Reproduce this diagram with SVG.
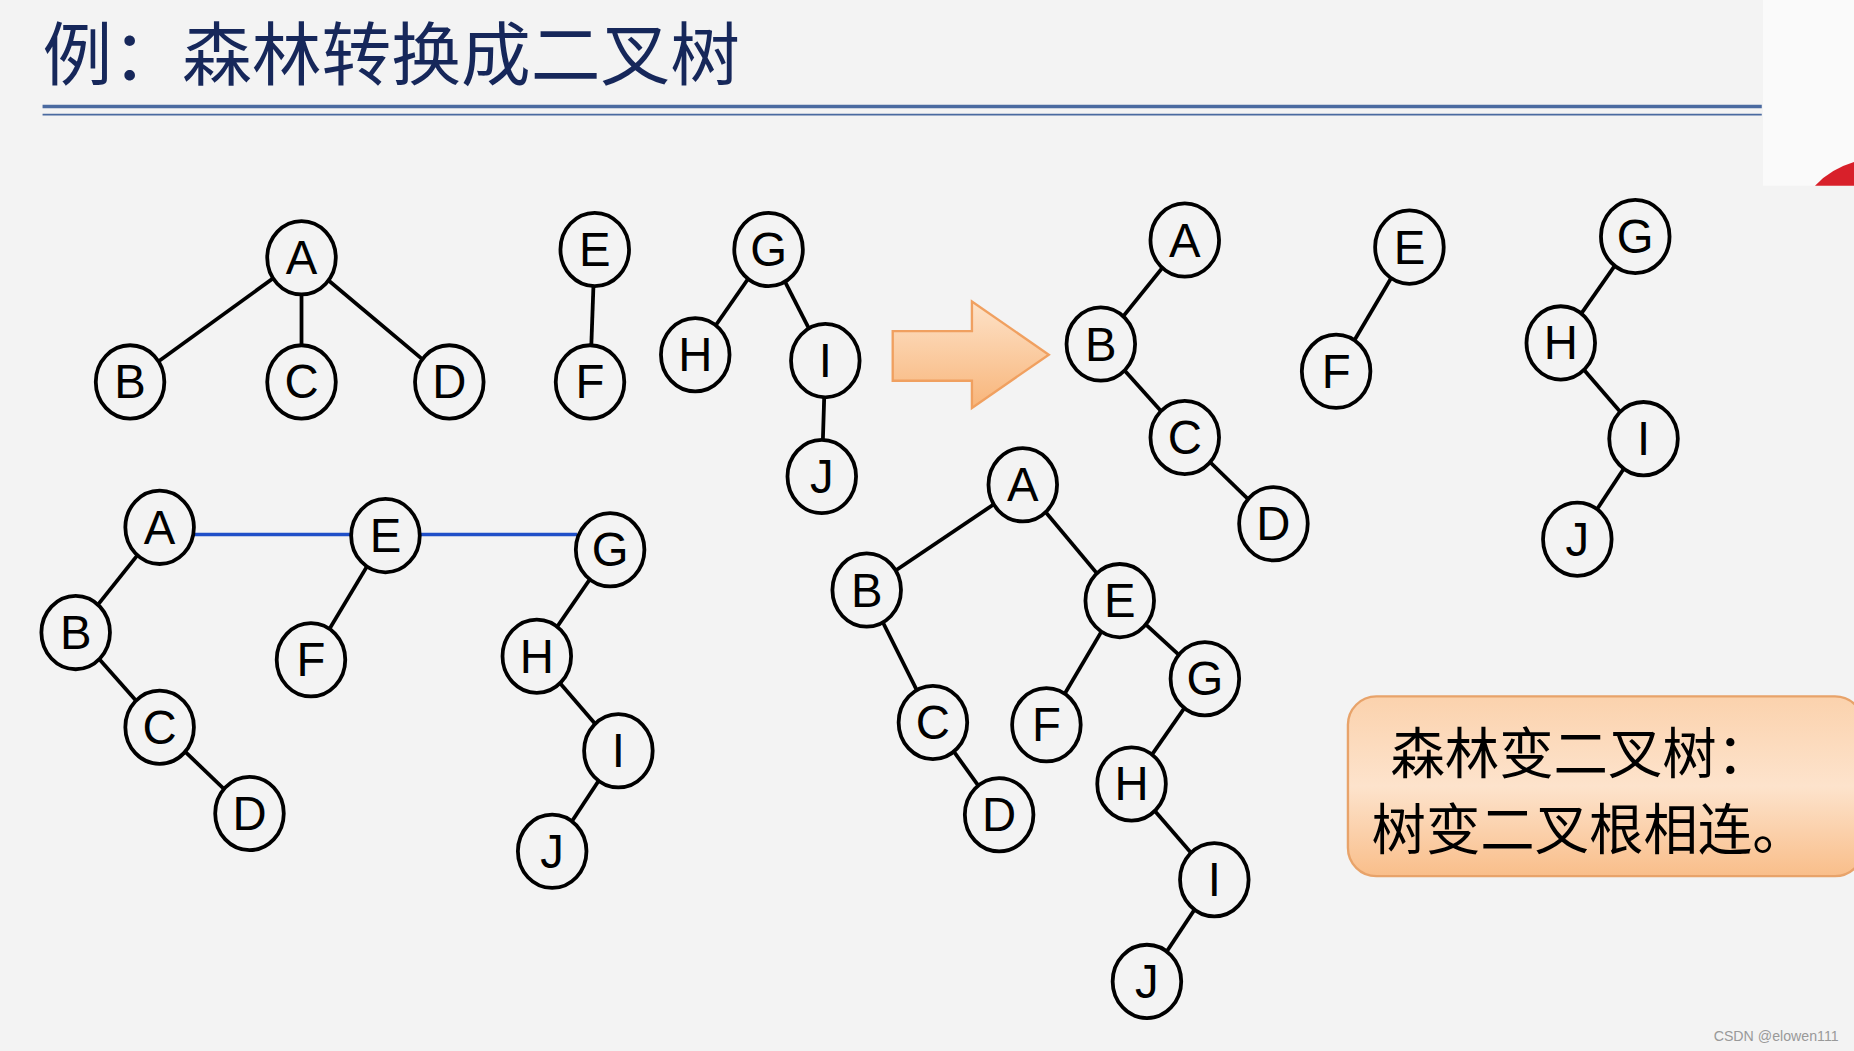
<svg xmlns="http://www.w3.org/2000/svg" width="1854" height="1051" viewBox="0 0 1854 1051">
<defs>
<style>
.n ellipse{fill:#f3f3f3;stroke:#000;stroke-width:3.2}
.n text{font-family:"Liberation Sans","DejaVu Sans",sans-serif;font-size:40px;text-anchor:middle;dominant-baseline:central;fill:#000}
.e line{stroke:#000;stroke-width:3.2}
.b line{stroke:#1f4fc8;stroke-width:3}
</style>
<linearGradient id="ag" x1="0" y1="0" x2="0" y2="1"><stop offset="0" stop-color="#fde2c8"/><stop offset="1" stop-color="#f8b57a"/></linearGradient>
<linearGradient id="bg" x1="0" y1="0" x2="0" y2="1"><stop offset="0" stop-color="#fbd2ad"/><stop offset="0.5" stop-color="#fde3cc"/><stop offset="1" stop-color="#f9be8a"/></linearGradient>
</defs>
<rect width="1854" height="1051" fill="#f3f3f3"/>
<g transform="scale(1.1824)">
<rect x="1491" y="0" width="77" height="157" fill="#fafafa"/>
<path d="M1535 157 Q1548 143 1568 137 L1568 157 Z" fill="#d8202a"/>
<text x="36" y="68" font-family="'Noto Sans CJK SC',sans-serif" font-size="59" fill="#16275a">例：森林转换成二叉树</text>
<line x1="36" y1="90" x2="1490" y2="90" stroke="#4a6aa0" stroke-width="3"/>
<line x1="36" y1="97" x2="1490" y2="97" stroke="#4a6aa0" stroke-width="1.5"/>
<path d="M755 280 H822 V255 L887 300 L822 345 V322 H755 Z" fill="url(#ag)" stroke="#f0a060" stroke-width="2"/>
<g id="connectors">
<g class="e">
<line x1="255" y1="218" x2="110" y2="323"/><line x1="255" y1="218" x2="255" y2="323"/><line x1="255" y1="218" x2="380" y2="323"/>
<line x1="503" y1="211" x2="499" y2="323"/>
<line x1="650" y1="211" x2="588" y2="300"/><line x1="650" y1="211" x2="698" y2="305"/><line x1="698" y1="305" x2="695" y2="403"/>
<line x1="1002" y1="203" x2="931" y2="291"/><line x1="931" y1="291" x2="1002" y2="370"/><line x1="1002" y1="370" x2="1077" y2="443"/>
<line x1="1192" y1="209" x2="1130" y2="314"/>
<line x1="1383" y1="200" x2="1320" y2="290"/><line x1="1320" y1="290" x2="1390" y2="371"/><line x1="1390" y1="371" x2="1334" y2="456"/>
<line x1="135" y1="446" x2="64" y2="535"/><line x1="64" y1="535" x2="135" y2="615"/><line x1="135" y1="615" x2="211" y2="688"/>
<line x1="326" y1="453" x2="263" y2="558"/>
<line x1="516" y1="465" x2="454" y2="555"/><line x1="454" y1="555" x2="523" y2="635"/><line x1="523" y1="635" x2="467" y2="720"/>
<line x1="865" y1="410" x2="733" y2="499"/><line x1="865" y1="410" x2="947" y2="508"/><line x1="733" y1="499" x2="789" y2="611"/><line x1="789" y1="611" x2="845" y2="689"/>
<line x1="947" y1="508" x2="885" y2="613"/><line x1="947" y1="508" x2="1019" y2="574"/><line x1="1019" y1="574" x2="957" y2="663"/><line x1="957" y1="663" x2="1027" y2="744"/><line x1="1027" y1="744" x2="970" y2="830"/>
</g>
<g class="b"><line x1="164" y1="452" x2="297" y2="452"/><line x1="355" y1="452" x2="488" y2="452"/></g>
</g>
<g id="t1A" class="n" transform="translate(255,218)"><ellipse rx="29" ry="31"/><text>A</text></g>
<g id="t1B" class="n" transform="translate(110,323)"><ellipse rx="29" ry="31"/><text>B</text></g>
<g id="t1C" class="n" transform="translate(255,323)"><ellipse rx="29" ry="31"/><text>C</text></g>
<g id="t1D" class="n" transform="translate(380,323)"><ellipse rx="29" ry="31"/><text>D</text></g>
<g id="t1E" class="n" transform="translate(503,211)"><ellipse rx="29" ry="31"/><text>E</text></g>
<g id="t1F" class="n" transform="translate(499,323)"><ellipse rx="29" ry="31"/><text>F</text></g>
<g id="t1G" class="n" transform="translate(650,211)"><ellipse rx="29" ry="31"/><text>G</text></g>
<g id="t1H" class="n" transform="translate(588,300)"><ellipse rx="29" ry="31"/><text>H</text></g>
<g id="t1I" class="n" transform="translate(698,305)"><ellipse rx="29" ry="31"/><text>I</text></g>
<g id="t1J" class="n" transform="translate(695,403)"><ellipse rx="29" ry="31"/><text>J</text></g>
<g id="t2A" class="n" transform="translate(1002,203)"><ellipse rx="29" ry="31"/><text>A</text></g>
<g id="t2B" class="n" transform="translate(931,291)"><ellipse rx="29" ry="31"/><text>B</text></g>
<g id="t2C" class="n" transform="translate(1002,370)"><ellipse rx="29" ry="31"/><text>C</text></g>
<g id="t2D" class="n" transform="translate(1077,443)"><ellipse rx="29" ry="31"/><text>D</text></g>
<g id="t2E" class="n" transform="translate(1192,209)"><ellipse rx="29" ry="31"/><text>E</text></g>
<g id="t2F" class="n" transform="translate(1130,314)"><ellipse rx="29" ry="31"/><text>F</text></g>
<g id="t2G" class="n" transform="translate(1383,200)"><ellipse rx="29" ry="31"/><text>G</text></g>
<g id="t2H" class="n" transform="translate(1320,290)"><ellipse rx="29" ry="31"/><text>H</text></g>
<g id="t2I" class="n" transform="translate(1390,371)"><ellipse rx="29" ry="31"/><text>I</text></g>
<g id="t2J" class="n" transform="translate(1334,456)"><ellipse rx="29" ry="31"/><text>J</text></g>
<g id="t3A" class="n" transform="translate(135,446)"><ellipse rx="29" ry="31"/><text>A</text></g>
<g id="t3B" class="n" transform="translate(64,535)"><ellipse rx="29" ry="31"/><text>B</text></g>
<g id="t3C" class="n" transform="translate(135,615)"><ellipse rx="29" ry="31"/><text>C</text></g>
<g id="t3D" class="n" transform="translate(211,688)"><ellipse rx="29" ry="31"/><text>D</text></g>
<g id="t3E" class="n" transform="translate(326,453)"><ellipse rx="29" ry="31"/><text>E</text></g>
<g id="t3F" class="n" transform="translate(263,558)"><ellipse rx="29" ry="31"/><text>F</text></g>
<g id="t3G" class="n" transform="translate(516,465)"><ellipse rx="29" ry="31"/><text>G</text></g>
<g id="t3H" class="n" transform="translate(454,555)"><ellipse rx="29" ry="31"/><text>H</text></g>
<g id="t3I" class="n" transform="translate(523,635)"><ellipse rx="29" ry="31"/><text>I</text></g>
<g id="t3J" class="n" transform="translate(467,720)"><ellipse rx="29" ry="31"/><text>J</text></g>
<g id="t4A" class="n" transform="translate(865,410)"><ellipse rx="29" ry="31"/><text>A</text></g>
<g id="t4B" class="n" transform="translate(733,499)"><ellipse rx="29" ry="31"/><text>B</text></g>
<g id="t4C" class="n" transform="translate(789,611)"><ellipse rx="29" ry="31"/><text>C</text></g>
<g id="t4D" class="n" transform="translate(845,689)"><ellipse rx="29" ry="31"/><text>D</text></g>
<g id="t4E" class="n" transform="translate(947,508)"><ellipse rx="29" ry="31"/><text>E</text></g>
<g id="t4F" class="n" transform="translate(885,613)"><ellipse rx="29" ry="31"/><text>F</text></g>
<g id="t4G" class="n" transform="translate(1019,574)"><ellipse rx="29" ry="31"/><text>G</text></g>
<g id="t4H" class="n" transform="translate(957,663)"><ellipse rx="29" ry="31"/><text>H</text></g>
<g id="t4I" class="n" transform="translate(1027,744)"><ellipse rx="29" ry="31"/><text>I</text></g>
<g id="t4J" class="n" transform="translate(970,830)"><ellipse rx="29" ry="31"/><text>J</text></g>
<g id="note">
<rect x="1140" y="589" width="436" height="152" rx="24" fill="url(#bg)" stroke="#e8a36a" stroke-width="2"/>
<text x="1176" y="654" font-family="'Noto Sans CJK SC',sans-serif" font-size="46" fill="#000">森林变二叉树：</text>
<text x="1160" y="718" font-family="'Noto Sans CJK SC',sans-serif" font-size="46" fill="#000">树变二叉根相连。</text>
</g>
<text x="1555" y="880" text-anchor="end" font-family="'Liberation Sans',sans-serif" font-size="12" fill="#999">CSDN @elowen111</text>
</g>
</svg>
